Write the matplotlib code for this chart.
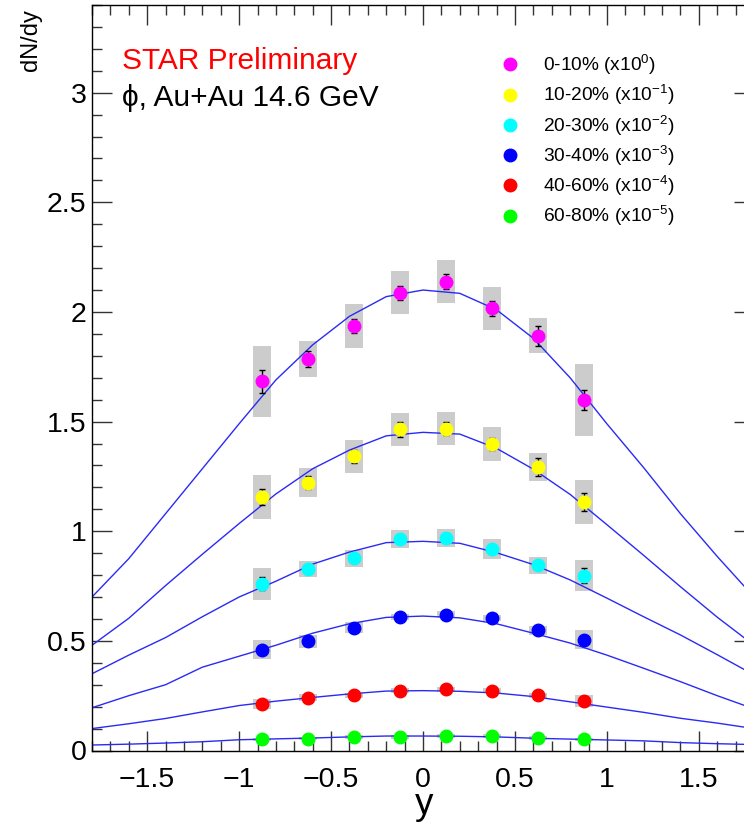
import matplotlib
matplotlib.use('Agg')
import matplotlib.pyplot as plt
from matplotlib.ticker import MultipleLocator, FuncFormatter
from matplotlib.lines import Line2D

plt.rcParams['font.family'] = ['Liberation Sans', 'DejaVu Sans']
plt.rcParams['mathtext.fontset'] = 'custom'
plt.rcParams['mathtext.rm'] = 'Liberation Sans'
plt.rcParams['mathtext.it'] = 'Liberation Sans:italic'

# rapidity bin centres
rap = [-0.875, -0.625, -0.375, -0.125, 0.125, 0.375, 0.625, 0.875]

labels = ['0-10%', '10-20%', '20-30%', '30-40%', '40-60%', '60-80%']
scales = ['0', '-1', '-2', '-3', '-4', '-5']
colors = ['#ff00ff', '#ffff00', '#00ffff', '#0000ff', '#ff0000', '#00ff00']

# dN/dy (already scaled)
dndy_0_10 = [1.683, 1.786, 1.935, 2.088, 2.138, 2.016, 1.892, 1.600]
dndy_10_20 = [1.157, 1.221, 1.342, 1.464, 1.468, 1.398, 1.293, 1.133]
dndy_20_30 = [0.760, 0.827, 0.876, 0.964, 0.969, 0.919, 0.844, 0.798]
dndy_30_40 = [0.459, 0.499, 0.559, 0.608, 0.619, 0.604, 0.549, 0.505]
dndy_40_60 = [0.212, 0.241, 0.252, 0.273, 0.279, 0.273, 0.252, 0.224]
dndy_60_80 = [0.051, 0.054, 0.062, 0.062, 0.065, 0.066, 0.058, 0.051]

# statistical errors
stat_0_10 = [0.053, 0.038, 0.032, 0.032, 0.033, 0.034, 0.045, 0.046]
stat_10_20 = [0.036, 0.029, 0.030, 0.034, 0.030, 0.028, 0.040, 0.042]
stat_20_30 = [0.030, 0.015, 0.015, 0.015, 0.015, 0.020, 0.015, 0.035]
stat_30_40 = [0.010, 0.008, 0.008, 0.008, 0.008, 0.008, 0.008, 0.010]
stat_40_60 = [0.005, 0.004, 0.004, 0.004, 0.004, 0.004, 0.004, 0.005]
stat_60_80 = [0.003, 0.003, 0.003, 0.003, 0.003, 0.003, 0.003, 0.003]

# systematic errors (grey boxes)
sys_0_10 = [0.164, 0.083, 0.100, 0.098, 0.097, 0.100, 0.079, 0.164]
sys_10_20 = [0.100, 0.066, 0.076, 0.076, 0.076, 0.076, 0.066, 0.100]
sys_20_30 = [0.072, 0.037, 0.040, 0.040, 0.040, 0.044, 0.037, 0.072]
sys_30_40 = [0.043, 0.030, 0.025, 0.015, 0.015, 0.015, 0.020, 0.044]
sys_40_60 = [0.024, 0.015, 0.012, 0.010, 0.010, 0.010, 0.012, 0.027]
sys_60_80 = [0.008, 0.008, 0.008, 0.008, 0.008, 0.008, 0.008, 0.008]

# fit curves
fit_y = [-1.8, -1.6, -1.4, -1.2, -1.0, -0.8, -0.6, -0.4, -0.2, 0.0,
         0.2, 0.4, 0.6, 0.8, 1.0, 1.2, 1.4, 1.6, 1.8]
fit_0_10 = [0.70, 0.875, 1.08, 1.285, 1.49, 1.69, 1.85, 1.98, 2.07, 2.10,
            2.085, 2.01, 1.88, 1.70, 1.49, 1.29, 1.08, 0.885, 0.70]
fit_10_20 = [0.48, 0.603, 0.752, 0.895, 1.035, 1.17, 1.285, 1.37, 1.435, 1.451,
             1.443, 1.378, 1.283, 1.168, 1.03, 0.89, 0.747, 0.608, 0.48]
fit_20_30 = [0.35, 0.435, 0.515, 0.61, 0.70, 0.772, 0.85, 0.905, 0.948, 0.954,
             0.945, 0.902, 0.848, 0.778, 0.695, 0.61, 0.527, 0.437, 0.345]
fit_30_40 = [0.195, 0.25, 0.30, 0.38, 0.43, 0.48, 0.535, 0.578, 0.607, 0.613,
             0.605, 0.578, 0.535, 0.49, 0.435, 0.375, 0.314, 0.25, 0.19]
fit_40_60 = [0.10, 0.122, 0.146, 0.176, 0.205, 0.225, 0.242, 0.258, 0.271, 0.273,
             0.27, 0.262, 0.246, 0.222, 0.198, 0.174, 0.147, 0.125, 0.10]
fit_60_80 = [0.025, 0.029, 0.034, 0.040, 0.049, 0.053, 0.057, 0.062, 0.066, 0.066,
             0.065, 0.062, 0.056, 0.052, 0.048, 0.044, 0.036, 0.031, 0.027]

dndy = [dndy_0_10, dndy_10_20, dndy_20_30, dndy_30_40, dndy_40_60, dndy_60_80]
stat = [stat_0_10, stat_10_20, stat_20_30, stat_30_40, stat_40_60, stat_60_80]
syst = [sys_0_10, sys_10_20, sys_20_30, sys_30_40, sys_40_60, sys_60_80]
fits = [fit_0_10, fit_10_20, fit_20_30, fit_30_40, fit_40_60, fit_60_80]

fig = plt.figure(figsize=(7.44, 8.24), dpi=100)
ax = fig.add_axes([92 / 744, 73.5 / 824, 662 / 744, 745.5 / 824])

handles = []
for i in range(len(dndy)):
    lo = [v - s for v, s in zip(dndy[i], syst[i])]
    hi = [2 * s for s in syst[i]]
    ax.bar(rap, hi, bottom=lo, width=0.096, color='#cccccc', zorder=1)
    ax.plot(fit_y, fits[i], color='#2a2af5', lw=1.0, zorder=2)
    ax.errorbar(rap, dndy[i], yerr=stat[i], fmt='none', ecolor='black',
                elinewidth=1.0, capsize=2.5, capthick=1.0, zorder=3)
    ax.plot(rap, dndy[i], 'o', color=colors[i], ms=9, mec=colors[i], zorder=4)
    handles.append(Line2D([], [], ls='none', marker='o', ms=9,
                          color=colors[i], mec=colors[i]))

ax.set_xlim(-1.8, 1.8)
ax.set_ylim(0, 3.4)

ax.xaxis.set_major_locator(MultipleLocator(0.5))
ax.xaxis.set_minor_locator(MultipleLocator(0.1))
ax.yaxis.set_major_locator(MultipleLocator(0.5))
ax.yaxis.set_minor_locator(MultipleLocator(0.1))
ax.xaxis.set_major_formatter(FuncFormatter(lambda v, p: f'{v:g}'.replace('-', '\u2212')))
ax.yaxis.set_major_formatter(FuncFormatter(lambda v, p: f'{v:g}'))
ax.tick_params(which='both', direction='in', top=True, right=True,
               color='#333333', width=1.0)
ax.tick_params(which='major', length=14.5)
ax.tick_params(which='minor', length=7.2)
ax.tick_params(axis='y', labelsize=20.5, pad=4)
ax.tick_params(axis='x', labelsize=20.5, pad=12)
for sp in ax.spines.values():
    sp.set_linewidth(1.0)

ax.text(-1.637, 3.145, 'STAR Preliminary', color='red', fontsize=21.5, va='center')
ax.text(-1.637, 2.975, '\u03d5, Au+Au 14.6 GeV', color='black', fontsize=21.5,
        va='center')

fig.text(31 / 744, 1 - 9 / 824, 'dN/dy', rotation=90, fontsize=17,
         ha='center', va='top')
fig.text(424 / 744, 1 - 814 / 824, 'y', fontsize=26.5, ha='center', va='baseline')

leg_labels = [f'{l} (x10$^{{{s}}}$)' for l, s in zip(labels, scales)]
ax.legend(handles, leg_labels, loc='upper left', bbox_to_anchor=(501 / 744, 1 - 53 / 824),
          bbox_transform=fig.transFigure, frameon=False, fontsize=13.8,
          handlelength=0.95, handletextpad=1.25, labelspacing=0.32, borderpad=0,
          borderaxespad=0)

fig.savefig('out.png', dpi=100)
